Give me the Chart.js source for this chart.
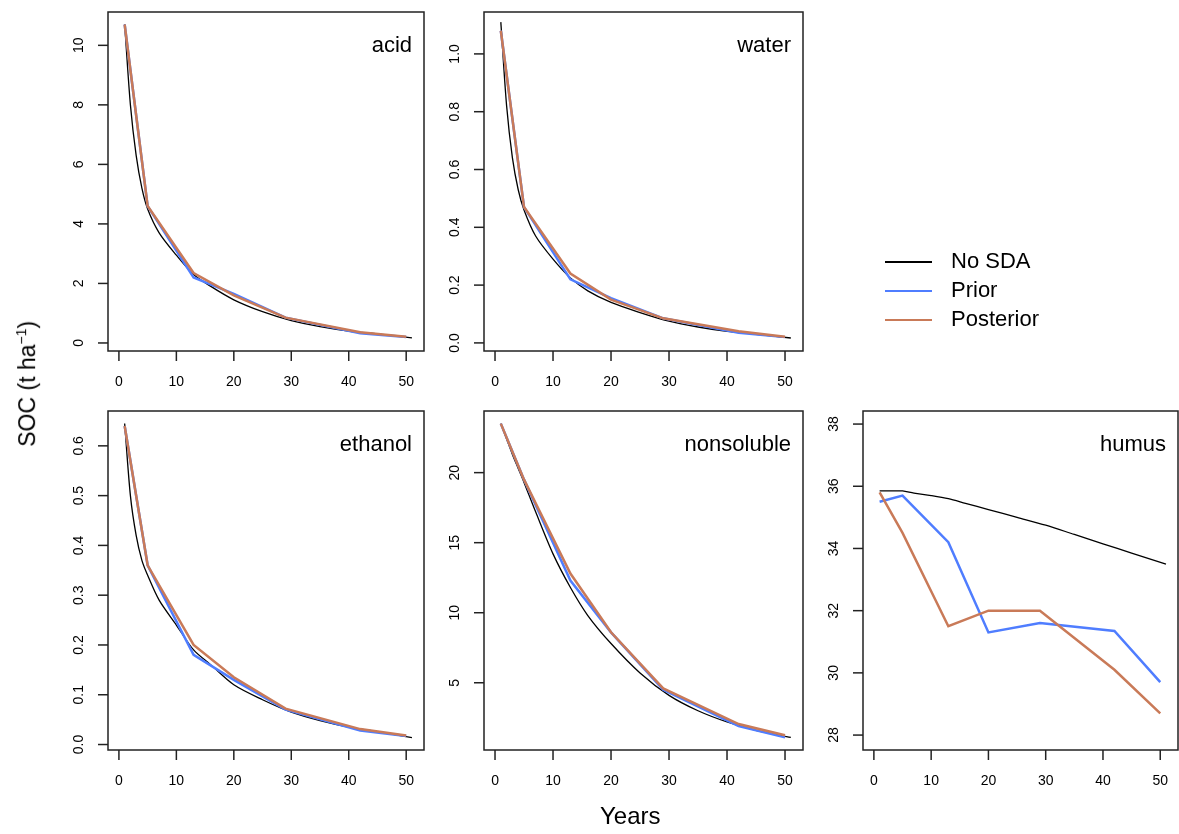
<!DOCTYPE html>
<html>
<head>
<meta charset="utf-8">
<script src="https://cdn.jsdelivr.net/npm/chart.js@4"></script>
<style>
  body { margin: 0; background: #fff; width: 1179px; height: 834px; position: relative; overflow: hidden; font-family: "Liberation Sans", Arial, sans-serif; }
  canvas { position: absolute; left: 0; top: 0; }
  .lbl { position: absolute; color: #000; white-space: nowrap; }
</style>
</head>
<body>
<canvas id="c0" width="1179" height="834"></canvas>
<canvas id="c1" width="1179" height="834"></canvas>
<canvas id="c2" width="1179" height="834"></canvas>
<canvas id="c3" width="1179" height="834"></canvas>
<canvas id="c4" width="1179" height="834"></canvas>
<div class="lbl" style="left:600px;top:802px;font-size:24px;">Years</div>
<div class="lbl" style="left:-36px;top:370px;font-size:23px;transform:rotate(-90deg);">SOC (t ha<sup style="font-size:14px">&minus;1</sup>)</div>
<script>
// years for the smooth "No SDA" run and for the assimilation steps
const yearsBase = [1, 2, 3, 4, 5, 7, 10, 13, 16, 20, 25, 30, 35, 40, 45, 51];
const yearsSda = [1, 5, 13, 20, 29, 42, 50];
const xTicks = [0, 10, 20, 30, 40, 50];

const acidBase = [10.7, 8.0, 6.3, 5.2, 4.5, 3.7, 2.95, 2.3, 1.9, 1.45, 1.05, 0.75, 0.55, 0.4, 0.3, 0.17];
const acidPrior = [10.7, 4.6, 2.2, 1.65, 0.85, 0.33, 0.2];
const acidPost = [10.7, 4.6, 2.35, 1.6, 0.85, 0.36, 0.21];

const waterBase = [1.11, 0.82, 0.64, 0.53, 0.46, 0.37, 0.29, 0.225, 0.18, 0.14, 0.105, 0.075, 0.055, 0.04, 0.03, 0.017];
const waterPrior = [1.08, 0.47, 0.22, 0.155, 0.085, 0.035, 0.02];
const waterPost = [1.08, 0.47, 0.24, 0.15, 0.085, 0.04, 0.021];

const ethanolBase = [0.645, 0.5, 0.42, 0.37, 0.34, 0.29, 0.24, 0.19, 0.16, 0.12, 0.09, 0.065, 0.048, 0.035, 0.026, 0.014];
const ethanolPrior = [0.64, 0.36, 0.18, 0.13, 0.07, 0.028, 0.017];
const ethanolPost = [0.64, 0.36, 0.2, 0.135, 0.072, 0.031, 0.018];

const nonsolBase = [23.5, 22.4, 21.3, 20.3, 19.3, 17.2, 14.2, 11.8, 9.8, 7.8, 5.7, 4.1, 3.0, 2.2, 1.6, 1.1];
const nonsolPrior = [23.5, 19.5, 12.3, 8.6, 4.5, 1.9, 1.1];
const nonsolPost = [23.5, 19.5, 12.8, 8.6, 4.6, 2.05, 1.25];

const humusBase = [35.85, 35.85, 35.85, 35.85, 35.85, 35.78, 35.7, 35.6, 35.45, 35.25, 35.0, 34.75, 34.45, 34.15, 33.85, 33.5];
const humusPrior = [35.5, 35.7, 34.2, 31.3, 31.6, 31.35, 29.7];
const humusPost = [35.8, 34.5, 31.5, 32.0, 32.0, 30.1, 28.7];

const panels = [
  { id: "c0", name: "acid", box: [108, 12, 424, 351], y: [-0.27, 11.12], ticks: [0, 2, 4, 6, 8, 10], base: acidBase, prior: acidPrior, post: acidPost, dec: 0 },
  { id: "c1", name: "water", box: [484, 12, 803, 351], y: [-0.028, 1.145], ticks: [0, 0.2, 0.4, 0.6, 0.8, 1.0], base: waterBase, prior: waterPrior, post: waterPost, dec: 1 },
  { id: "c2", name: "ethanol", box: [108, 411, 424, 750], y: [-0.011, 0.67], ticks: [0, 0.1, 0.2, 0.3, 0.4, 0.5, 0.6], base: ethanolBase, prior: ethanolPrior, post: ethanolPost, dec: 1 },
  { id: "c3", name: "nonsoluble", box: [484, 411, 803, 750], y: [0.2, 24.4], ticks: [5, 10, 15, 20], base: nonsolBase, prior: nonsolPrior, post: nonsolPost, dec: 0 },
  { id: "c4", name: "humus", box: [863, 411, 1178, 750], y: [27.52, 38.42], ticks: [28, 30, 32, 34, 36, 38], base: humusBase, prior: humusPrior, post: humusPost, dec: 0 }
];

const BLUE = "#4f7dff";
const ORANGE = "#c97a58";

// draws the R-style box, ticks, rotated y labels and panel title
const axesPlugin = {
  id: "rAxes",
  afterDraw(chart, args, opts) {
    const { ctx, chartArea: a, scales } = chart;
    ctx.save();
    ctx.strokeStyle = "#222";
    ctx.lineWidth = 1.5;
    ctx.strokeRect(a.left, a.top, a.right - a.left, a.bottom - a.top);
    ctx.fillStyle = "#000";
    ctx.font = "14px 'Liberation Sans', Arial, sans-serif";
    ctx.textAlign = "center";
    ctx.textBaseline = "middle";
    xTicks.forEach(t => {
      const x = scales.x.getPixelForValue(t);
      ctx.beginPath(); ctx.moveTo(x, a.bottom); ctx.lineTo(x, a.bottom + 10); ctx.stroke();
      ctx.fillText(String(t), x, a.bottom + 31);
    });
    opts.ticks.forEach(t => {
      const y = scales.y.getPixelForValue(t);
      ctx.beginPath(); ctx.moveTo(a.left, y); ctx.lineTo(a.left - 10, y); ctx.stroke();
      ctx.save();
      ctx.translate(a.left - 29, y);
      ctx.rotate(-Math.PI / 2);
      ctx.fillText(t.toFixed(opts.dec), 0, 0);
      ctx.restore();
    });
    ctx.font = "22px 'Liberation Sans', Arial, sans-serif";
    ctx.textAlign = "right";
    ctx.fillText(opts.name, a.right - 12, a.top + 34);
    ctx.restore();
  }
};

panels.forEach(p => {
  const [l, t, r, b] = p.box;
  new Chart(document.getElementById(p.id), {
    type: "line",
    data: {
      datasets: [
        { label: "No SDA", data: yearsBase.map((x, i) => ({ x, y: p.base[i] })), borderColor: "#000", borderWidth: 1.3, pointRadius: 0, tension: 0.3, order: 2 },
        { label: "Prior", data: yearsSda.map((x, i) => ({ x, y: p.prior[i] })), borderColor: BLUE, borderWidth: 2.5, pointRadius: 0, order: 1 },
        { label: "Posterior", data: yearsSda.map((x, i) => ({ x, y: p.post[i] })), borderColor: ORANGE, borderWidth: 2.5, pointRadius: 0, order: 0 }
      ]
    },
    options: {
      responsive: false,
      animation: false,
      layout: { padding: { left: l, top: t, right: 1179 - r, bottom: 834 - b } },
      scales: {
        x: { type: "linear", min: -1.9, max: 53.1, display: false },
        y: { type: "linear", min: p.y[0], max: p.y[1], display: false }
      },
      plugins: {
        legend: { display: false },
        tooltip: { enabled: false },
        rAxes: { ticks: p.ticks, dec: p.dec, name: p.name }
      }
    },
    plugins: [axesPlugin]
  });
});

// shared legend in the empty top-right cell
const legendItems = [["No SDA", "#000", 1.3], ["Prior", BLUE, 2.5], ["Posterior", ORANGE, 2.5]];
legendItems.forEach(([txt, col, w], i) => {
  const y = 262 + i * 29;
  const line = document.createElement("div");
  line.style.cssText = `position:absolute;left:885px;top:${y - w / 2}px;width:47px;height:${w}px;background:${col};`;
  document.body.appendChild(line);
  const lab = document.createElement("div");
  lab.className = "lbl";
  lab.style.cssText = `left:951px;top:${y - 14}px;font-size:22px;`;
  lab.textContent = txt;
  document.body.appendChild(lab);
});
</script>
</body>
</html>
